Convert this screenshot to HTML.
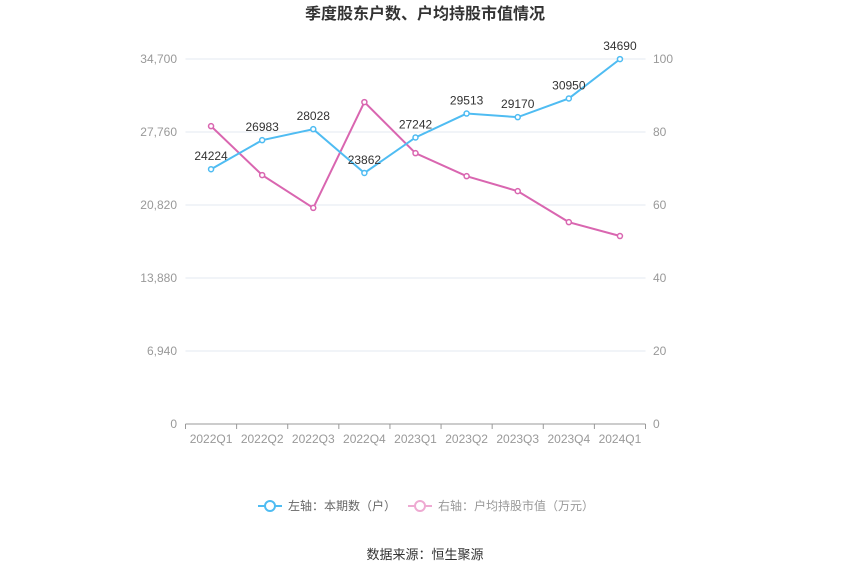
<!DOCTYPE html>
<html><head><meta charset="utf-8"><style>
body{margin:0;background:#fff;font-family:"Liberation Sans","Noto Sans CJK SC",sans-serif;}
svg text{font-family:"Liberation Sans","Noto Sans CJK SC",sans-serif;}
</style></head><body>
<svg id="c" width="850" height="575">
<text x="425" y="19" text-anchor="middle" font-size="16" font-weight="bold" fill="#333">季度股东户数、户均持股市值情况</text>
<g id="grid"></g><g id="axes"></g><g id="series"></g>
<g>
<g><line x1="258" y1="506" x2="282" y2="506" stroke="#4fbcf2" stroke-width="2"/><circle cx="270" cy="506" r="5" fill="#fff" stroke="#4fbcf2" stroke-width="2"/><text x="288" y="510" font-size="12" fill="#666">左轴：本期数（户）</text></g>
<g><line x1="408" y1="506" x2="432" y2="506" stroke="#eeaad2" stroke-width="2"/><circle cx="420" cy="506" r="5" fill="#fff" stroke="#eeaad2" stroke-width="2"/><text x="438" y="510" font-size="12" fill="#999">右轴：户均持股市值（万元）</text></g>
</g>
<text x="425" y="559" text-anchor="middle" font-size="13" fill="#333">数据来源：恒生聚源</text>
</svg>
<script>
const categories=["2022Q1","2022Q2","2022Q3","2022Q4","2023Q1","2023Q2","2023Q3","2023Q4","2024Q1"];
const holders=[24224,26983,28028,23862,27242,29513,29170,30950,34690];
const avgValue=[81.6,68.2,59.2,88.2,74.2,67.9,63.8,55.3,51.5];
const leftTicks=[0,6940,13880,20820,27760,34700];
const rightTicks=[0,20,40,60,80,100];
const NS="http://www.w3.org/2000/svg";
const X0=185.5,X1=645.5,Y0=424,Y1=59;
const bw=(X1-X0)/categories.length;
const xs=i=>X0+bw*(i+0.5);
const yl=v=>Y0-(v/34700)*(Y0-Y1);
const yr=v=>Y0-(v/100)*(Y0-Y1);
function mk(p,tag,a){const e=document.createElementNS(NS,tag);for(const k in a)e.setAttribute(k,a[k]);p.appendChild(e);return e;}
const grid=document.getElementById('grid'),axes=document.getElementById('axes'),ser=document.getElementById('series');
leftTicks.forEach((t,i)=>{
 const y=yl(t);
 const l=mk(grid,'line',{x1:X0,x2:X1,y1:y,y2:y,stroke:i==0?'#999':'#e3e8f0'});
 
 
 const tx=mk(axes,'text',{x:177,y:y+4,'text-anchor':'end','font-size':12,fill:'#999'});tx.textContent=t.toLocaleString('en-US');
 
 
});
rightTicks.forEach(t=>{
 const tx=mk(axes,'text',{x:653,y:yr(t)+4,'font-size':12,fill:'#999'});tx.textContent=t;
 
 
});
categories.forEach((c,i)=>{
 const tk=mk(axes,'line',{x1:X0+bw*i,x2:X0+bw*i,y1:Y0,y2:Y0+5,stroke:'#999'});
 
 
 const tx=mk(axes,'text',{x:xs(i),y:443,'text-anchor':'middle','font-size':12,fill:'#999'});tx.textContent=c;
 
 
});
mk(axes,'line',{x1:X1,x2:X1,y1:Y0,y2:Y0+5,stroke:'#999'});
function line(vals,f,col,name,labels){
 const p=mk(ser,'polyline',{points:vals.map((v,i)=>xs(i)+','+f(v)).join(' '),fill:'none',stroke:col,'stroke-width':2});
 
 
 vals.forEach((v,i)=>{
  const c=mk(ser,'circle',{cx:xs(i),cy:f(v),r:2.5,fill:'#fff',stroke:col,'stroke-width':1.5});
  
  
  if(labels){const t=mk(ser,'text',{x:xs(i),y:f(v)-9,'text-anchor':'middle','font-size':12,fill:'#333'});t.textContent=v;
  
  }
 });
}
line(avgValue,yr,'#d966b0','avg-value',false);
line(holders,yl,'#4fbcf2','holders',true);
</script>
</body></html>
